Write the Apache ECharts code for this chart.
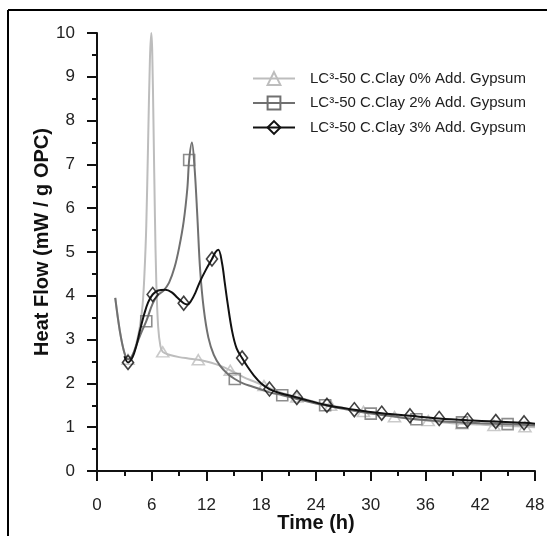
<!DOCTYPE html>
<html>
<head>
<meta charset="utf-8">
<script src="https://cdn.jsdelivr.net/npm/echarts@6/dist/echarts.min.js"></script>
<style>
  html, body { margin: 0; padding: 0; background: #fff; }
  #chart { width: 547px; height: 536px; }
</style>
</head>
<body>
<div id="chart"></div>
<script>
// Isothermal calorimetry curves, LC3-50 with calcined clay and added gypsum
const seriesNames = [
  'LC³-50 C.Clay 0% Add. Gypsum',
  'LC³-50 C.Clay 2% Add. Gypsum',
  'LC³-50 C.Clay 3% Add. Gypsum'
];

// 0% added gypsum: curve samples (time h, heat flow mW/g OPC)
const time0 = [2.0, 2.5, 3.0, 3.4, 3.9, 4.3, 4.7, 5.0, 5.2, 5.4, 5.6, 5.8, 5.95, 6.05, 6.2, 6.35, 6.5, 6.7, 6.95, 7.2,
  8, 9, 10, 11.1, 12, 13, 14, 14.6, 16, 17, 18.3, 20, 21.9, 24, 25.6, 28, 29.2, 30, 32, 32.6, 34, 36.3, 38, 40, 42, 43.5, 46, 46.9, 48];
const flow0 = [3.95, 3.2, 2.7, 2.55, 2.65, 2.9, 3.3, 3.8, 4.5, 5.6, 7.5, 9.4, 10.0, 9.6, 7.8, 5.8, 4.3, 3.3, 2.85, 2.72,
  2.65, 2.6, 2.57, 2.54, 2.5, 2.44, 2.36, 2.3, 2.15, 2.06, 1.95, 1.8, 1.69, 1.57, 1.5, 1.4, 1.36, 1.33, 1.26, 1.24, 1.2, 1.15, 1.11, 1.08, 1.06, 1.04, 1.02, 1.01, 1.0];
const markTime0 = [3.4, 7.2, 11.1, 14.6, 18.3, 21.9, 25.6, 29.2, 32.6, 36.3, 40, 43.5, 46.9];
const markFlow0 = [2.55, 2.72, 2.54, 2.3, 1.95, 1.69, 1.5, 1.36, 1.24, 1.15, 1.08, 1.04, 1.01];

// 2% added gypsum
const time2 = [2.0, 2.5, 3.0, 3.4, 3.9, 4.4, 4.9, 5.4, 6.1, 6.7, 7.3, 7.9, 8.5, 9.0, 9.5, 9.9, 10.1, 10.4, 10.7, 11.0, 11.3, 11.7,
  12.2, 12.8, 13.5, 14.3, 15.1, 16, 17, 18, 19, 20.3, 22, 25, 28, 30, 32, 35, 38, 40, 42, 45, 48];
const flow2 = [3.95, 3.2, 2.7, 2.55, 2.65, 2.92, 3.18, 3.42, 3.82, 4.02, 4.12, 4.3, 4.65, 5.1, 5.7, 6.45, 7.1, 7.5, 6.9, 5.8, 4.6, 3.7,
  3.05, 2.65, 2.4, 2.22, 2.1, 2.0, 1.93, 1.86, 1.79, 1.73, 1.64, 1.5, 1.38, 1.31, 1.26, 1.18, 1.13, 1.11, 1.09, 1.07, 1.04];
const markTime2 = [5.4, 10.1, 15.1, 20.3, 25, 30, 35, 40, 45];
const markFlow2 = [3.42, 7.1, 2.1, 1.73, 1.5, 1.31, 1.18, 1.11, 1.07];

// 3% added gypsum
const time3 = [3.0, 3.4, 3.9, 4.3, 4.7, 5.2, 5.6, 6.1, 6.7, 7.5, 8.2, 8.8, 9.5, 9.9, 10.3, 10.8, 11.3, 11.9, 12.6, 13.0, 13.3,
  13.7, 14.0, 14.3, 14.8, 15.3, 15.9, 16.5, 17.2, 18.0, 18.9, 20, 21.9, 25.2, 28.2, 31.2, 34.3, 37.5, 40.6, 43.7, 46.8, 48];
const flow3 = [2.62, 2.48, 2.6, 2.85, 3.2, 3.6, 3.85, 4.03, 4.12, 4.14, 4.08, 3.96, 3.83, 3.8, 3.88, 4.08, 4.33, 4.58, 4.84, 5.0, 5.05,
  4.75, 4.3, 3.85, 3.2, 2.8, 2.58, 2.38, 2.18, 2.0, 1.87, 1.78, 1.68, 1.5, 1.4, 1.32, 1.26, 1.2, 1.16, 1.13, 1.1, 1.08];
const markTime3 = [3.4, 6.1, 9.5, 12.6, 15.9, 18.9, 21.9, 25.2, 28.2, 31.2, 34.3, 37.5, 40.6, 43.7, 46.8];
const markFlow3 = [2.48, 4.03, 3.83, 4.84, 2.58, 1.87, 1.68, 1.5, 1.4, 1.32, 1.26, 1.2, 1.16, 1.13, 1.1];

const xTicks = [0, 6, 12, 18, 24, 30, 36, 42, 48];
const yTicks = [0, 1, 2, 3, 4, 5, 6, 7, 8, 9, 10];

const colors = ['#bdbdbd', '#707070', '#111111'];
const symbols = ['triangle', 'rect', 'diamond'];
const symbolSizes = [[12, 10], [11, 11], [11, 14]];
const font = 'Liberation Sans, Arial, sans-serif';

const zip = (a, b) => a.map((t, i) => [t, b[i]]);
const curves = [zip(time0, flow0), zip(time2, flow2), zip(time3, flow3)];
const marks = [zip(markTime0, markFlow0), zip(markTime2, markFlow2), zip(markTime3, markFlow3)];

const series = [];
seriesNames.forEach((name, i) => {
  series.push({
    name: name,
    type: 'line',
    data: curves[i],
    smooth: 0.35,
    showSymbol: false,
    symbol: symbols[i],
    symbolSize: symbolSizes[i],
    lineStyle: { color: colors[i], width: 2 },
    itemStyle: { color: 'rgba(255,255,255,0)', borderColor: colors[i], borderWidth: 1.6 },
    z: 2 + i
  });
  series.push({
    name: name,
    type: 'scatter',
    data: marks[i],
    symbol: symbols[i],
    symbolSize: symbolSizes[i],
    itemStyle: { color: 'rgba(255,255,255,0)', borderColor: colors[i], borderWidth: 1.6 },
    z: 2 + i
  });
});

const chart = echarts.init(document.getElementById('chart'), null, { renderer: 'canvas' });
chart.setOption({
  animation: false,
  backgroundColor: '#fff',
  grid: { left: 97, right: 12, top: 33, bottom: 65, containLabel: false, outerBoundsMode: 'none' },
  legend: {
    orient: 'vertical',
    left: 247,
    top: 66,
    itemWidth: 42,
    itemHeight: 16,
    itemGap: 9.5,
    data: seriesNames,
    textStyle: { fontFamily: font, fontSize: 15, color: '#222', padding: [0, 0, 0, 10] }
  },
  xAxis: {
    type: 'value',
    min: 0, max: 48, interval: 6,
    name: 'Time (h)',
    nameLocation: 'middle',
    nameGap: 42,
    nameMoveOverlap: false,
    nameTextStyle: { fontFamily: font, fontSize: 20, fontWeight: 'bold', color: '#111' },
    axisLine: { onZero: false, lineStyle: { color: '#111', width: 2 } },
    axisTick: { length: 10, lineStyle: { color: '#111', width: 2 } },
    minorTick: { show: true, splitNumber: 2, length: 5, lineStyle: { color: '#111', width: 2 } },
    splitLine: { show: false },
    axisLabel: {
      margin: 26,
      fontFamily: font, fontSize: 17, color: '#222',
      formatter: v => (xTicks.includes(v) ? String(v) : '')
    }
  },
  yAxis: {
    type: 'value',
    min: 0, max: 10, interval: 1,
    name: 'Heat Flow (mW / g OPC)',
    nameLocation: 'middle',
    nameGap: 45,
    nameMoveOverlap: false,
    nameTextStyle: { fontFamily: font, fontSize: 20, fontWeight: 'bold', color: '#111', padding: [0, 0, 0, 20] },
    axisLine: { show: true, lineStyle: { color: '#111', width: 2 } },
    axisTick: { length: 10, lineStyle: { color: '#111', width: 2 } },
    minorTick: { show: true, splitNumber: 2, length: 5, lineStyle: { color: '#111', width: 2 } },
    splitLine: { show: false },
    axisLabel: {
      margin: 22,
      fontFamily: font, fontSize: 17, color: '#222',
      formatter: v => (yTicks.includes(v) ? String(v) : '')
    }
  },
  graphic: [
    { type: 'line', shape: { x1: 8, y1: 10, x2: 547, y2: 10 }, style: { stroke: '#000', lineWidth: 2 } },
    { type: 'line', shape: { x1: 8, y1: 10, x2: 8, y2: 536 }, style: { stroke: '#000', lineWidth: 2 } }
  ],
  series: series
});
</script>
</body>
</html>
